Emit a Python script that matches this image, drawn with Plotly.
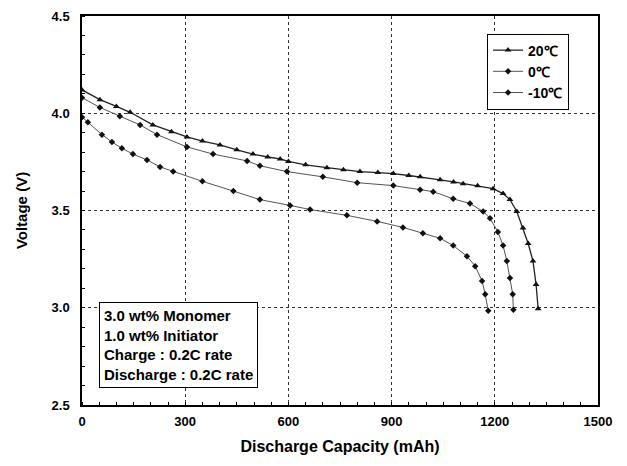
import plotly.graph_objects as go

# 20 C
cap_20 = [0, 52, 100, 140, 206, 260, 305, 350, 401, 450, 497, 540, 576, 600, 650, 712, 760, 808, 860, 905, 950, 983, 1041, 1080, 1108, 1150, 1195, 1224, 1244, 1264, 1282, 1297, 1311, 1320, 1326]
v_20 = [4.12, 4.07, 4.035, 4.005, 3.94, 3.905, 3.878, 3.857, 3.837, 3.812, 3.79, 3.775, 3.765, 3.752, 3.735, 3.72, 3.71, 3.70, 3.695, 3.69, 3.68, 3.673, 3.658, 3.647, 3.638, 3.627, 3.612, 3.587, 3.556, 3.495, 3.41, 3.33, 3.24, 3.12, 2.995]

# 0 C
cap_0 = [0, 52, 110, 169, 218, 305, 381, 480, 517, 596, 700, 800, 905, 983, 1021, 1079, 1128, 1166, 1186, 1209, 1224, 1235, 1244, 1252, 1254]
v_0 = [4.08, 4.03, 3.985, 3.94, 3.89, 3.827, 3.79, 3.755, 3.73, 3.70, 3.673, 3.643, 3.628, 3.607, 3.597, 3.56, 3.536, 3.495, 3.46, 3.39, 3.32, 3.24, 3.153, 3.07, 2.99]

# -10 C
cap_m10 = [0, 17, 58, 87, 116, 148, 189, 227, 265, 350, 440, 517, 605, 663, 770, 858, 933, 991, 1041, 1079, 1119, 1143, 1163, 1172, 1181]
v_m10 = [3.98, 3.954, 3.89, 3.852, 3.82, 3.79, 3.76, 3.724, 3.70, 3.65, 3.60, 3.556, 3.526, 3.505, 3.475, 3.444, 3.413, 3.383, 3.357, 3.32, 3.265, 3.214, 3.138, 3.07, 2.985]

x_ticks = [0, 300, 600, 900, 1200, 1500]
y_ticks = [2.5, 3.0, 3.5, 4.0, 4.5]
note_lines = ["3.0 wt% Monomer", "1.0 wt% Initiator", "Charge : 0.2C rate", "Discharge : 0.2C rate"]

FONT = "Liberation Sans"

fig = go.Figure()
fig.add_trace(go.Scatter(x=cap_20, y=v_20, mode="lines+markers", name="<b>20℃</b>",
                         line=dict(color="#222", width=1.3),
                         marker=dict(symbol="triangle-up", size=6, color="#111")))
fig.add_trace(go.Scatter(x=cap_0, y=v_0, mode="lines+markers", name="<b>0℃</b>",
                         line=dict(color="#555", width=1),
                         marker=dict(symbol="diamond", size=5, color="#111")))
fig.add_trace(go.Scatter(x=cap_m10, y=v_m10, mode="lines+markers", name="<b>-10℃</b>",
                         line=dict(color="#555", width=1),
                         marker=dict(symbol="diamond", size=5, color="#111")))

axis_common = dict(showline=True, linecolor="black", linewidth=1.5, mirror=True,
                   showgrid=True, gridcolor="#333", griddash="dot", gridwidth=1,
                   zeroline=False, ticks="", tickfont=dict(family=FONT, size=13, color="black"))

fig.update_xaxes(range=[0, 1500], tickvals=x_ticks, ticktext=[f"<b>{t}</b>" for t in x_ticks],
                 title=dict(text="<b>Discharge Capacity (mAh)</b>", font=dict(family=FONT, size=16, color="black"), standoff=12),
                 minor=dict(ticks="inside", dtick=50, ticklen=3, tickcolor="black", showgrid=False),
                 ticklabelstandoff=4,
                 **axis_common)
fig.update_yaxes(range=[2.5, 4.5], tickvals=y_ticks, ticktext=[f"<b>{t:.1f}</b>" for t in y_ticks],
                 title=dict(text="<b>Voltage (V)</b>", font=dict(family=FONT, size=15, color="black"), standoff=20),
                 minor=dict(ticks="inside", dtick=0.1, ticklen=3, tickcolor="black", showgrid=False),
                 ticklabelstandoff=8,
                 **axis_common)

fig.add_annotation(xref="paper", yref="paper", x=0.032, y=0.043, xanchor="left", yanchor="bottom",
                   text="<br>".join(f"<b>{s}</b>" for s in note_lines), showarrow=False, align="left",
                   font=dict(family=FONT, size=15, color="black"),
                   bordercolor="black", borderwidth=1, borderpad=4, bgcolor="white")

fig.update_layout(
    width=627, height=466,
    margin=dict(l=82, r=29, t=9, b=61),
    plot_bgcolor="white", paper_bgcolor="white",
    font=dict(family=FONT, color="black"),
    legend=dict(x=0.785, y=0.955, xanchor="left", yanchor="top",
                bordercolor="black", borderwidth=1, bgcolor="white",
                font=dict(family=FONT, size=14, color="black"),
                itemwidth=30, tracegroupgap=0),
)

fig.write_html("out.html")
